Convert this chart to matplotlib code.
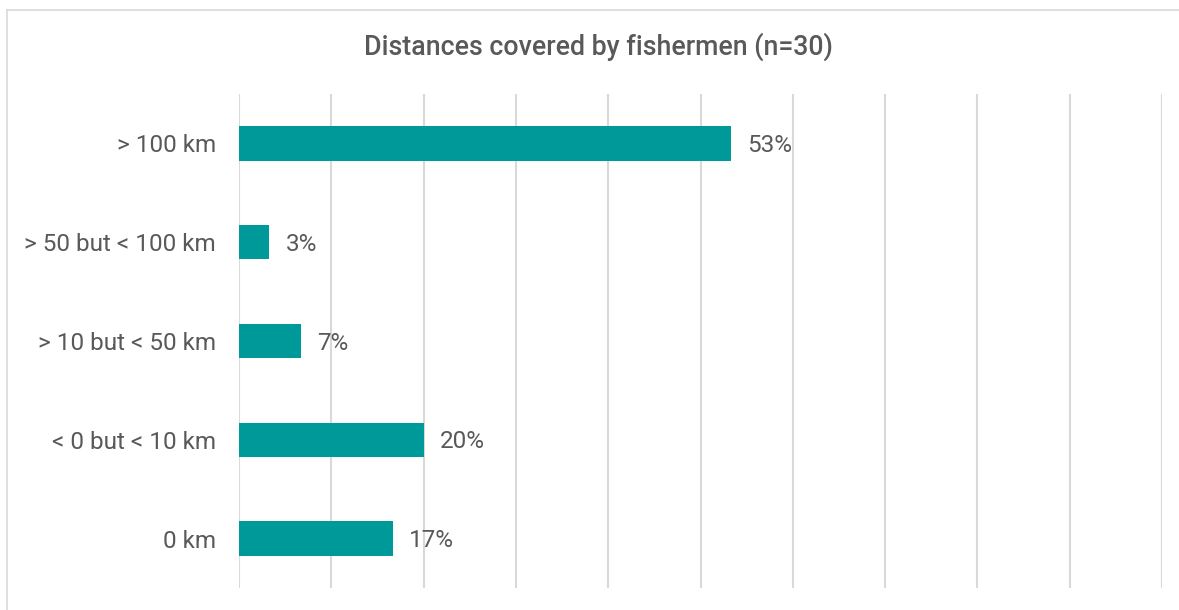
import matplotlib.pyplot as plt
from matplotlib.lines import Line2D

# Data (share of 30 fishermen, %)
categories = ["0 km", "< 0 but < 10 km", "> 10 but < 50 km", "> 50 but < 100 km", "> 100 km"]
values = [16.7, 20.0, 6.7, 3.3, 53.3]
value_labels = ["17%", "20%", "7%", "3%", "53%"]

text_color = "#595959"
bar_color = "#009999"
grid_color = "#d9d9d9"

plt.rcParams['font.family'] = ['Roboto', 'DejaVu Sans']

fig = plt.figure(figsize=(11.79, 6.10), dpi=100)
ax = fig.add_axes([239 / 1179, 1 - 588 / 610, (1162 - 239) / 1179, (588 - 94) / 610])

# chart frame, only top and left edges show in the reference
x0, y0 = 7.5 / 1179, 1 - 9.5 / 610
fig.lines.append(Line2D([x0, x0], [0, y0], transform=fig.transFigure,
                        color=grid_color, linewidth=1.2))
fig.lines.append(Line2D([x0, 1], [y0, y0], transform=fig.transFigure,
                        color=grid_color, linewidth=1.2))

y = range(len(categories))
ax.barh(y, values, height=0.35, color=bar_color, zorder=3)

for yi, v, lab in zip(y, values, value_labels):
    ax.annotate(lab, xy=(v, yi), xytext=(11.5, -1.5), textcoords="offset points",
                va="center", ha="left", fontsize=17.5, color=text_color)

ax.set_xlim(0, 100)
ax.set_ylim(-0.5, len(categories) - 0.5)
ax.set_xticks(range(0, 101, 10))
ax.set_xticklabels([])
ax.set_yticks(list(y))
ax.set_yticklabels(categories, fontsize=17.5, color=text_color)
ax.tick_params(axis="both", length=0)
ax.tick_params(axis="y", pad=16.5)
ax.grid(axis="x", color=grid_color, linewidth=1.5, zorder=0)
for s in ax.spines.values():
    s.set_visible(False)

fig.text(598 / 1179, 1 - 47 / 610, "Distances covered by fishermen (n=30)",
         ha="center", va="center", fontsize=19.3, fontweight="medium",
         color=text_color)

plt.savefig("out.png", dpi=100)
plt.close()
